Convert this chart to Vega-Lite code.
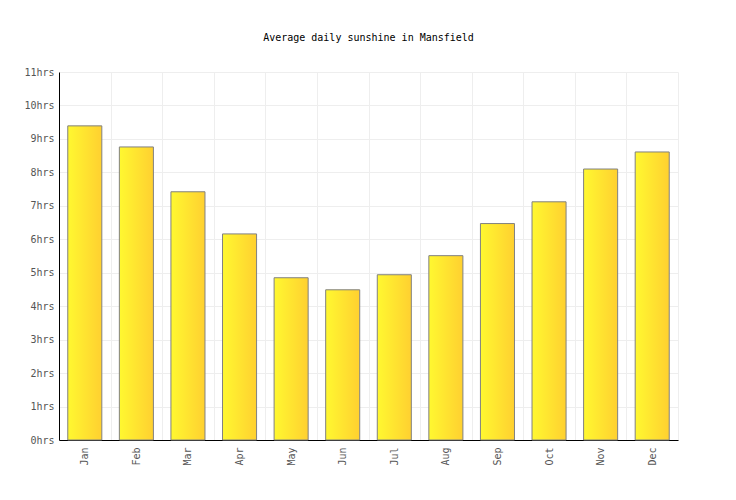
{
  "$schema": "https://vega.github.io/schema/vega-lite/v6.json",
  "autosize": "none",
  "width": 619,
  "height": 368,
  "padding": {"left": 59, "top": 72, "right": 58, "bottom": 60},
  "background": "white",
  "title": {
    "text": "Average daily sunshine in Mansfield",
    "font": "DejaVu Sans Mono",
    "fontSize": 10,
    "fontWeight": "normal",
    "color": "#000000",
    "anchor": "middle",
    "offset": 24
  },
  "data": {
    "values": [
      {"month": "Jan", "hours": 9.39},
      {"month": "Feb", "hours": 8.76},
      {"month": "Mar", "hours": 7.42},
      {"month": "Apr", "hours": 6.16},
      {"month": "May", "hours": 4.85},
      {"month": "Jun", "hours": 4.49},
      {"month": "Jul", "hours": 4.94},
      {"month": "Aug", "hours": 5.51},
      {"month": "Sep", "hours": 6.47},
      {"month": "Oct", "hours": 7.12},
      {"month": "Nov", "hours": 8.1},
      {"month": "Dec", "hours": 8.61}
    ]
  },
  "mark": {
    "type": "bar",
    "width": {"band": 0.66},
    "stroke": "#808080",
    "strokeWidth": 1,
    "fill": {
      "gradient": "linear",
      "x1": 0, "x2": 1, "y1": 0, "y2": 0,
      "stops": [
        {"offset": 0, "color": "#fff830"},
        {"offset": 1, "color": "#ffd030"}
      ]
    }
  },
  "encoding": {
    "x": {
      "field": "month",
      "type": "nominal",
      "sort": null,
      "scale": {"paddingInner": 0, "paddingOuter": 0},
      "axis": {
        "title": null,
        "labelAngle": -90,
        "labelAlign": "right",
        "labelBaseline": "middle",
        "labelPadding": 7,
        "labelFont": "DejaVu Sans Mono",
        "labelFontSize": 10,
        "labelColor": "#555555",
        "domainColor": "#000000",
        "domainWidth": 1,
        "ticks": false,
        "tickBand": "extent",
        "grid": true,
        "gridColor": "#eeeeee",
        "gridWidth": 1
      }
    },
    "y": {
      "field": "hours",
      "type": "quantitative",
      "scale": {"domain": [0, 11], "nice": false},
      "axis": {
        "title": null,
        "values": [0,1,2,3,4,5,6,7,8,9,10,11],
        "labelExpr": "datum.value + 'hrs'",
        "labelFont": "DejaVu Sans Mono",
        "labelFontSize": 10,
        "labelColor": "#555555",
        "labelPadding": 5,
        "domainColor": "#000000",
        "domainWidth": 1,
        "ticks": false,
        "grid": true,
        "gridColor": "#eeeeee",
        "gridWidth": 1
      }
    }
  },
  "config": {
    "view": {"stroke": null}
  }
}
